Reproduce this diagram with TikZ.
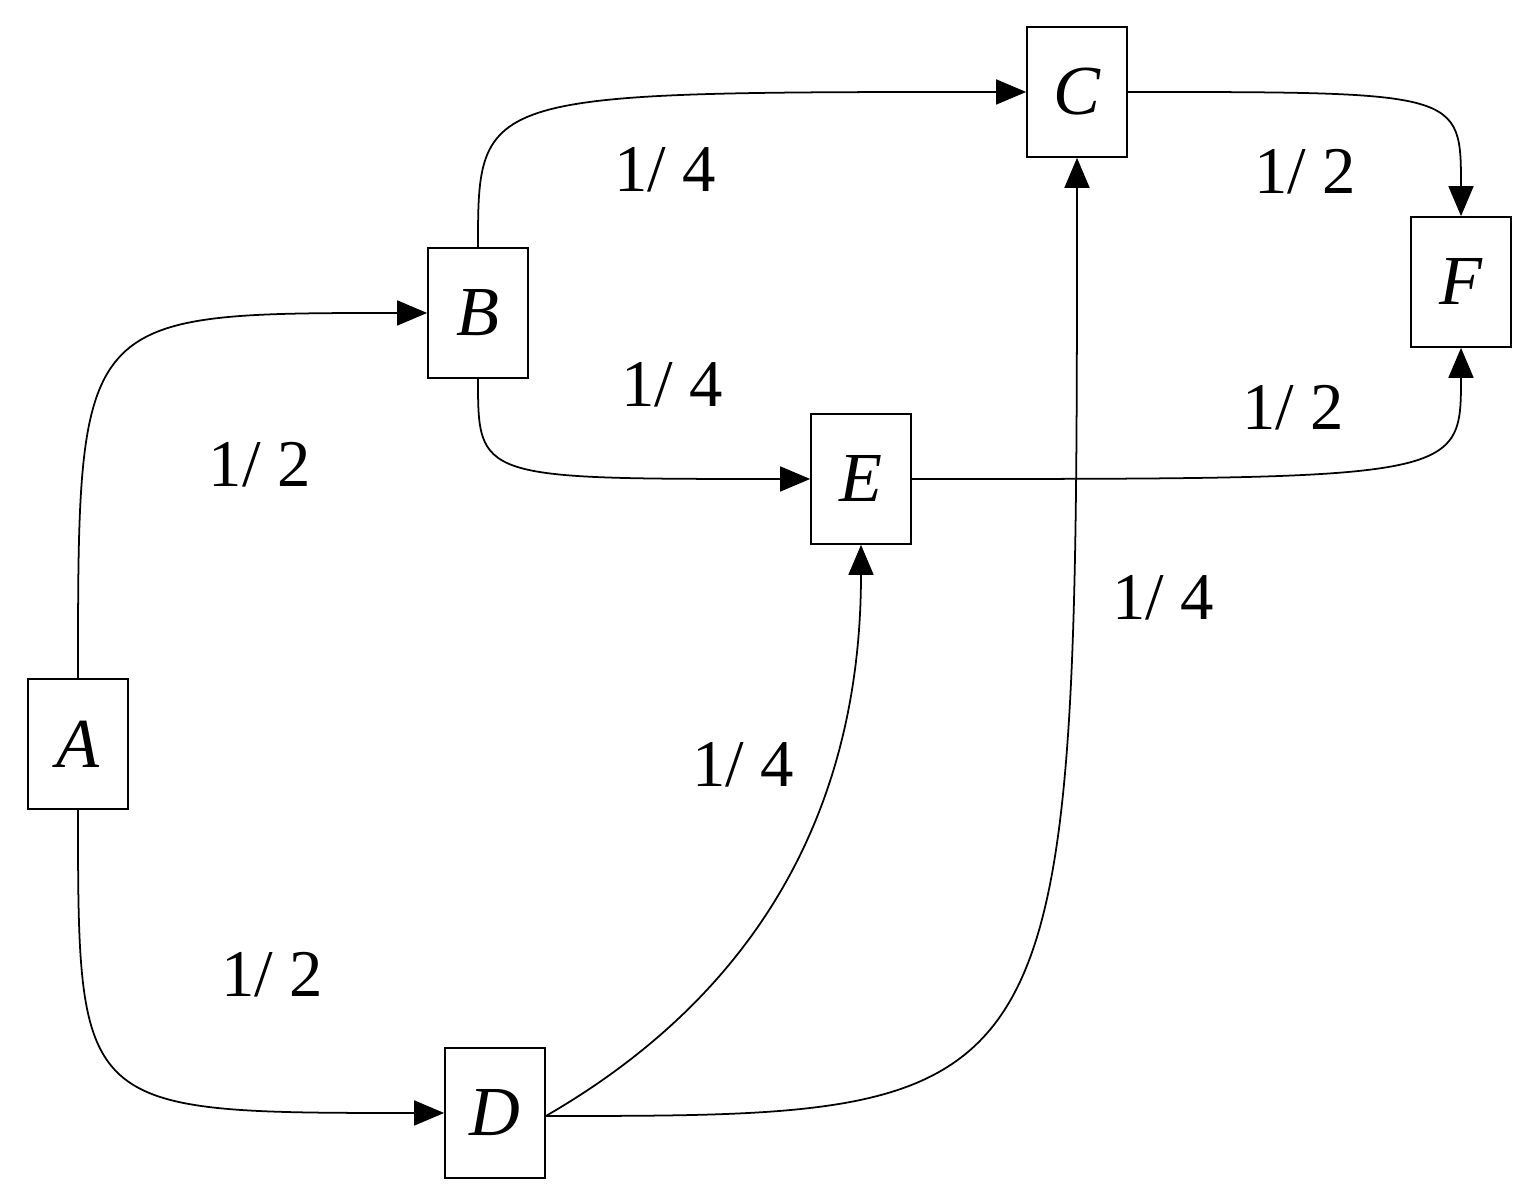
\documentclass[tikz,border=0pt]{standalone}
\usepackage{fontspec}
\setmainfont{Liberation Serif}
\usetikzlibrary{arrows.meta}

\begin{document}
\begin{tikzpicture}[x=0.02cm,y=0.02cm,
	state/.style={draw,line width=1pt,minimum width=2cm,minimum height=2.6cm,inner sep=0pt,font=\fontsize{40}{48}\selectfont\itshape},
	prob/.style={font=\fontsize{38}{46}\selectfont},
	edge/.style={line width=1pt,-{Triangle[length=0.6cm,width=0.5cm]}}]
	\useasboundingbox (0,0) rectangle (1532,1202);
	\node[state] (A) at (78,458) {A};
	\node[state] (B) at (478,889) {B};
	\node[state] (C) at (1077,1110) {C};
	\node[state] (D) at (495,89) {D};
	\node[state] (E) at (861,723) {E};
	\node[state] (F) at (1461,920) {F};
	\coordinate (Dout) at ([yshift=-0.06cm]D.east);
	% edges
	\draw[edge] (A.north) .. controls (A.north |- B.west) .. (B.west);
	\draw[edge] (A.south) .. controls (A.south |- D.west) .. (D.west);
	\draw[edge] (B.north) .. controls (B.north |- C.west) .. (C.west);
	\draw[edge] (B.south) .. controls (B.south |- E.west) .. (E.west);
	\draw[edge] (C.east) .. controls (F.north |- C.east) .. (F.north);
	\draw[edge] (E.east) .. controls (F.south |- E.east) .. (F.south);
	\draw[edge] (Dout) to[out=30,in=-90] (E.south);
	\draw[edge] (Dout) .. controls (C.south |- Dout) .. (C.south);
	% labels
	\node[prob] (l1) at (665,1032) {1/ 4};
	\node[prob] (l2) at (672,817) {1/ 4};
	\node[prob] (l3) at (260,737) {1/ 2};
	\node[prob] (l4) at (272,227) {1/ 2};
	\node[prob] (l5) at (743,437) {1/ 4};
	\node[prob] (l6) at (1163,604) {1/ 4};
	\node[prob] (l7) at (1305,1030) {1/ 2};
	\node[prob] (l8) at (1293,794) {1/ 2};
\end{tikzpicture}
\end{document}
